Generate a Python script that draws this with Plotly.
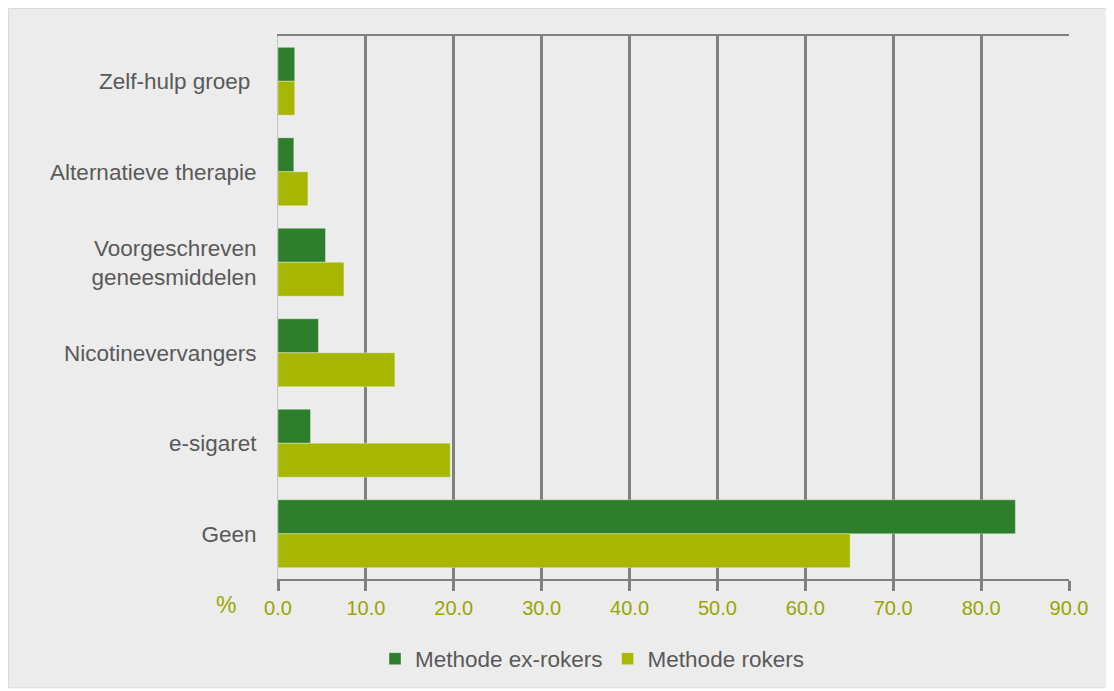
import plotly.graph_objects as go

categories = ["Zelf-hulp groep\u00a0", "Alternatieve therapie", "Voorgeschreven<br>geneesmiddelen",
              "Nicotinevervangers", "e-sigaret", "Geen"]
ex_rokers = [1.9, 1.8, 5.4, 4.6, 3.7, 83.9]
rokers = [1.9, 3.4, 7.5, 13.3, 19.6, 65.1]
series_names = ["Methode ex-rokers", "Methode rokers"]
tick_vals = [0, 10, 20, 30, 40, 50, 60, 70, 80, 90]

DARK = "#2d7f2b"
LIGHT = "#a7b700"
OLIVE = "#98a600"
TEXT = "#595959"
FONT = "Liberation Sans, Arial, sans-serif"

fig = go.Figure()
fig.add_trace(go.Bar(y=categories, x=ex_rokers, name=series_names[0], orientation="h",
                     marker=dict(color=DARK, line=dict(color="rgba(255,255,255,0.35)", width=1))))
fig.add_trace(go.Bar(y=categories, x=rokers, name=series_names[1], orientation="h",
                     marker=dict(color=LIGHT, line=dict(color="rgba(255,255,255,0.35)", width=1))))

OFF = 8  # page body margin
W, H = 1106, 683
L, R, T, B = 270, 45, 28, 111
pw = W - L - R
ph = H - T - B

def px_x(xp):
    return (xp - OFF - L) / pw

def px_y(yp):
    return (H - B - (yp - OFF)) / ph

fig.add_shape(type="rect", xref="paper", yref="paper",
              x0=px_x(8.5), x1=px_x(1110), y0=px_y(689), y1=px_y(8.5),
              fillcolor="#ececec", line=dict(color="#d9d9d9", width=1), layer="below")

fig.add_annotation(text="%", xref="paper", yref="paper", x=px_x(226), y=px_y(606),
                   xanchor="center", yanchor="middle",
                   showarrow=False, font=dict(family=FONT, size=23, color=OLIVE))

fig.update_layout(
    width=W, height=H,
    margin=dict(l=L, r=R, t=T, b=B),
    paper_bgcolor="white",
    plot_bgcolor="rgba(0,0,0,0)",
    barmode="group", bargap=0.25, bargroupgap=0,
    font=dict(family=FONT, size=21, color=TEXT),
    showlegend=True,
    legend=dict(orientation="h", x=px_x(592), xanchor="center", y=px_y(659), yanchor="middle",
                font=dict(family=FONT, size=22.5, color=TEXT), bgcolor="rgba(0,0,0,0)",
                itemclick=False),
    xaxis=dict(range=[0, 90], tickvals=tick_vals, tickformat=".1f",
               showgrid=True, gridcolor="#808080", gridwidth=3,
               showline=True, linecolor="#808080", linewidth=2, mirror=True,
               ticks="outside", ticklen=10, tickwidth=3, tickcolor="#808080",
               tickfont=dict(family=FONT, size=20, color=OLIVE), zeroline=False),
    yaxis=dict(autorange="reversed", showgrid=False, showline=True, linecolor="#c4c4c4",
               linewidth=1, ticks="", ticklabelstandoff=16,
               tickfont=dict(family=FONT, size=22.5, color=TEXT)),
)

fig.write_html("out.html")
